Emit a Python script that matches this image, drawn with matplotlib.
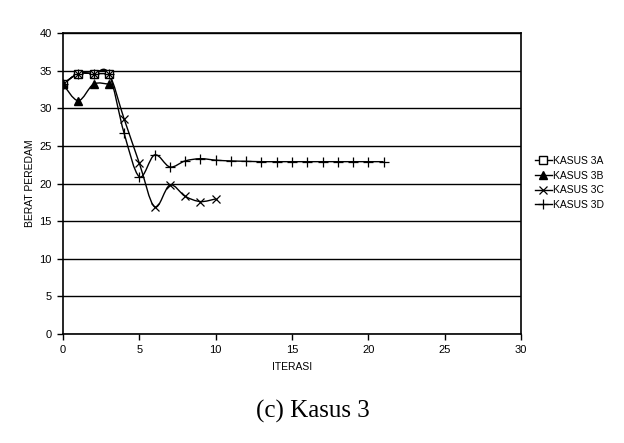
import numpy as np
import matplotlib
matplotlib.use('Agg')
import matplotlib.pyplot as plt
from matplotlib.path import Path
from matplotlib.patches import PathPatch
from matplotlib.lines import Line2D

plt.rcParams['font.family'] = ['Liberation Sans', 'DejaVu Sans']

# data
iter_a = [0, 1, 2, 3]
kasus_3a = [33.2, 34.6, 34.6, 34.6]
iter_b = [0, 1, 2, 3]
kasus_3b = [33.2, 31.0, 33.2, 33.2]
iter_c = list(range(11))
kasus_3c = [33.2, 34.6, 34.6, 34.6, 28.6, 22.7, 16.9, 19.8, 18.3, 17.6, 17.95]
iter_d = list(range(22))
kasus_3d = [33.2, 34.6, 34.6, 34.6, 26.7, 20.9, 23.8, 22.2, 23.0, 23.3, 23.1,
            23.0, 22.95, 22.9, 22.9, 22.9, 22.9, 22.9, 22.9, 22.9, 22.9, 22.9]
labels = ['KASUS 3A', 'KASUS 3B', 'KASUS 3C', 'KASUS 3D']


def smooth_path(x, y):
    # Excel-like smoothed line: Catmull-Rom segments as cubic Bezier curves
    pts = np.column_stack([x, y]).astype(float)
    n = len(pts)
    verts = [pts[0]]
    codes = [Path.MOVETO]
    for i in range(n - 1):
        p0 = pts[i - 1] if i > 0 else pts[i]
        p1 = pts[i]
        p2 = pts[i + 1]
        p3 = pts[i + 2] if i + 2 < n else pts[i + 1]
        c1 = p1 + (p2 - p0) / 6.0
        c2 = p2 - (p3 - p1) / 6.0
        verts += [c1, c2, p2]
        codes += [Path.CURVE4] * 3
    return Path(verts, codes)


fig = plt.figure(figsize=(6.24, 4.43), dpi=100)
ax = fig.add_axes([63 / 624, 1 - 334 / 443, (521 - 63) / 624, (334 - 33) / 443])

styles = [
    dict(marker='s', markerfacecolor='white', markeredgecolor='black', markersize=5.5),
    dict(marker='^', markerfacecolor='black', markeredgecolor='black', markersize=5.5),
    dict(marker='x', markerfacecolor='black', markeredgecolor='black', markersize=6, markeredgewidth=0.9),
    dict(marker='+', markerfacecolor='black', markeredgecolor='black', markersize=7, markeredgewidth=0.9),
]
series = [(iter_a, kasus_3a), (iter_b, kasus_3b), (iter_c, kasus_3c), (iter_d, kasus_3d)]

handles = []
for (xs, ys), st, lab in zip(series, styles, labels):
    ax.add_patch(PathPatch(smooth_path(xs, ys), facecolor='none', edgecolor='black', lw=1, zorder=3))
    ax.plot(xs, ys, linestyle='none', zorder=4, **st)
    handles.append(Line2D([], [], color='black', lw=1, **st))

ax.set_xlim(0, 30)
ax.set_ylim(0, 40)
ax.set_xticks(np.arange(0, 31, 5))
ax.set_yticks(np.arange(0, 41, 5))
ax.yaxis.grid(True, color='black', linewidth=1)
ax.set_axisbelow(True)
for s in ax.spines.values():
    s.set_linewidth(1.2)
ax.tick_params(axis='both', direction='out', length=4, width=1, labelsize=8, pad=4)

ax.set_xlabel('ITERASI', fontsize=7.5, labelpad=5)
ax.set_ylabel('BERAT PEREDAM', fontsize=7.5, labelpad=3)

fig.legend(handles, labels, loc='center left', bbox_to_anchor=(535 / 624, 1 - 183 / 443),
           frameon=False, fontsize=7.5, handlelength=1.6, handletextpad=0.1,
           labelspacing=0.45, borderpad=0, borderaxespad=0)

fig.text(313 / 624, 1 - 411 / 443, '(c) Kasus 3', ha='center', va='center',
         fontsize=18, family=['Liberation Serif', 'DejaVu Serif'])

plt.savefig('out.png', dpi=100)
